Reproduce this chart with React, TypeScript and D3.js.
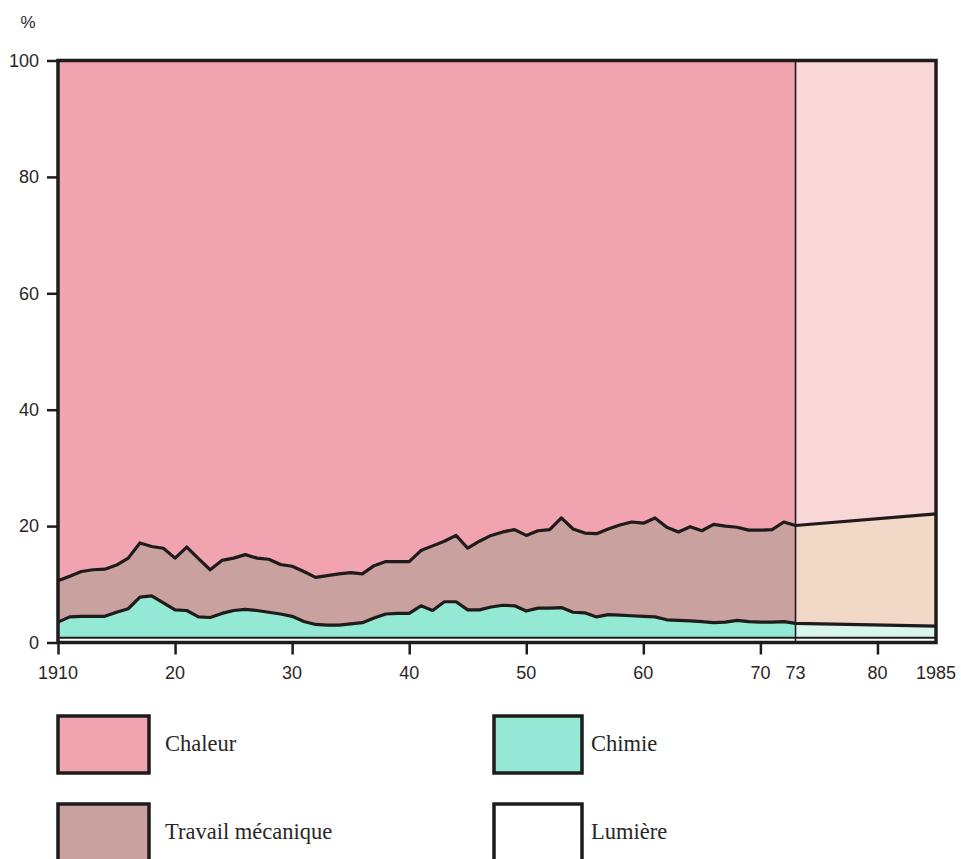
import * as d3 from "d3";
import { useEffect, useRef } from "react";

const YEARS = [
  1910, 1911, 1912, 1913, 1914, 1915, 1916, 1917, 1918, 1919,
  1920, 1921, 1922, 1923, 1924, 1925, 1926, 1927, 1928, 1929,
  1930, 1931, 1932, 1933, 1934, 1935, 1936, 1937, 1938, 1939,
  1940, 1941, 1942, 1943, 1944, 1945, 1946, 1947, 1948, 1949,
  1950, 1951, 1952, 1953, 1954, 1955, 1956, 1957, 1958, 1959,
  1960, 1961, 1962, 1963, 1964, 1965, 1966, 1967, 1968, 1969,
  1970, 1971, 1972, 1973, 1985,
];

// shares in % (bottom to top)
const LUMIERE = [
  0.8, 0.8, 0.8, 0.8, 0.8, 0.8, 0.8, 0.8, 0.8, 0.8,
  0.8, 0.8, 0.8, 0.8, 0.8, 0.8, 0.8, 0.8, 0.8, 0.8,
  0.8, 0.8, 0.8, 0.8, 0.8, 0.8, 0.8, 0.8, 0.8, 0.8,
  0.8, 0.8, 0.8, 0.8, 0.8, 0.8, 0.8, 0.8, 0.8, 0.8,
  0.8, 0.8, 0.8, 0.8, 0.8, 0.8, 0.8, 0.8, 0.8, 0.8,
  0.8, 0.8, 0.8, 0.8, 0.8, 0.8, 0.8, 0.8, 0.8, 0.8,
  0.8, 0.8, 0.8, 0.8, 0.8,
];

const CHIMIE = [
  2.7, 3.6, 3.7, 3.7, 3.7, 4.4, 5.0, 7.0, 7.2, 6.0,
  4.8, 4.7, 3.6, 3.5, 4.2, 4.7, 4.9, 4.7, 4.4, 4.1,
  3.7, 2.8, 2.3, 2.2, 2.2, 2.4, 2.6, 3.4, 4.1, 4.2,
  4.2, 5.5, 4.7, 6.2, 6.2, 4.8, 4.8, 5.3, 5.6, 5.5,
  4.6, 5.1, 5.1, 5.2, 4.4, 4.3, 3.6, 4.0, 3.9, 3.8,
  3.7, 3.6, 3.1, 3.0, 2.9, 2.8, 2.6, 2.7, 3.0, 2.8,
  2.7, 2.7, 2.8, 2.5, 2.0,
];

const TRAVAIL = [
  7.1, 7.0, 7.7, 8.0, 8.1, 8.1, 8.7, 9.3, 8.5, 9.4,
  8.9, 10.9, 10.0, 8.2, 9.1, 9.0, 9.4, 9.0, 9.1, 8.5,
  8.6, 8.6, 8.1, 8.5, 8.8, 8.8, 8.4, 9.0, 9.0, 8.9,
  8.9, 9.5, 11.1, 10.4, 11.4, 10.6, 11.8, 12.3, 12.6, 13.1,
  13.0, 13.3, 13.5, 15.4, 14.3, 13.7, 14.3, 14.7, 15.5, 16.1,
  16.0, 17.0, 15.9, 15.2, 16.2, 15.6, 16.9, 16.5, 16.0, 15.7,
  15.8, 15.9, 17.1, 16.8, 19.3,
];

const CHALEUR = [
  89.4, 88.6, 87.8, 87.5, 87.4, 86.7, 85.5, 82.9, 83.5, 83.8,
  85.5, 83.6, 85.6, 87.5, 85.9, 85.5, 84.9, 85.5, 85.7, 86.6,
  86.9, 87.8, 88.8, 88.5, 88.2, 88.0, 88.2, 86.8, 86.1, 86.1,
  86.1, 84.2, 83.4, 82.6, 81.6, 83.8, 82.6, 81.6, 81.0, 80.6,
  81.6, 80.8, 80.6, 78.6, 80.5, 81.2, 81.3, 80.5, 79.8, 79.3,
  79.5, 78.6, 80.2, 81.0, 80.1, 80.8, 79.7, 80.0, 80.2, 80.7,
  80.7, 80.6, 79.3, 79.9, 77.9,
];

const SERIES_KEYS = ["lumiere", "chimie", "travail", "chaleur"] as const;
type SeriesKey = (typeof SERIES_KEYS)[number];

const PAST_COLORS: Record<SeriesKey, string> = {
  lumiere: "#ffffff",
  chimie: "#93e9d3",
  travail: "#c9a29f",
  chaleur: "#f2a3b0",
};

const FORECAST_COLORS: Record<SeriesKey, string> = {
  lumiere: "#ffffff",
  chimie: "#d8f6ec",
  travail: "#f2d9c7",
  chaleur: "#fad7d7",
};

const LEGEND_ITEMS: { key: SeriesKey; label: string }[] = [
  { key: "chaleur", label: "Chaleur" },
  { key: "travail", label: "Travail mécanique" },
  { key: "chimie", label: "Chimie" },
  { key: "lumiere", label: "Lumière" },
];

const Y_TICKS = [0, 20, 40, 60, 80, 100];
const X_TICKS = [1910, 1920, 1930, 1940, 1950, 1960, 1970, 1980];
const X_LABELS: { year: number; text: string }[] = [
  { year: 1910, text: "1910" },
  { year: 1920, text: "20" },
  { year: 1930, text: "30" },
  { year: 1940, text: "40" },
  { year: 1950, text: "50" },
  { year: 1960, text: "60" },
  { year: 1970, text: "70" },
  { year: 1973, text: "73" },
  { year: 1980, text: "80" },
  { year: 1985, text: "1985" },
];
const SPLIT_YEAR = 1973;

const INK = "#1f1b1b";
const SANS = "'Liberation Sans', Arial, Helvetica, sans-serif";
const SERIF = "'Liberation Serif', 'Times New Roman', serif";

type Row = { year: number } & Record<SeriesKey, number>;

const rows: Row[] = YEARS.map((year, i) => ({
  year,
  lumiere: LUMIERE[i],
  chimie: CHIMIE[i],
  travail: TRAVAIL[i],
  chaleur: CHALEUR[i],
}));

const drawChart = (svgElement: SVGSVGElement) => {
  const svg = d3.select(svgElement);
  svg.selectAll("*").remove();

  const plot = { left: 58, right: 936, top: 60.5, bottom: 642.5 };

  const x = d3.scaleLinear().domain([1910, 1985]).range([plot.left, plot.right]);
  const y = d3.scaleLinear().domain([0, 100]).range([plot.bottom, plot.top]);

  const stacked = d3.stack<Row, SeriesKey>().keys(SERIES_KEYS as unknown as SeriesKey[])(rows);

  const area = d3
    .area<d3.SeriesPoint<Row>>()
    .x((d) => x(d.data.year))
    .y0((d) => y(d[0]))
    .y1((d) => y(d[1]));

  const line = d3
    .line<d3.SeriesPoint<Row>>()
    .x((d) => x(d.data.year))
    .y((d) => y(d[1]));

  const root = svg.append("g");

  // past (measured) and forecast (1973-1985) areas
  for (const layer of stacked) {
    const key = layer.key as SeriesKey;
    root
      .append("path")
      .datum(layer.filter((d) => d.data.year <= SPLIT_YEAR))
      .attr("d", area)
      .attr("fill", PAST_COLORS[key]);
    root
      .append("path")
      .datum(layer.filter((d) => d.data.year >= SPLIT_YEAR))
      .attr("d", area)
      .attr("fill", FORECAST_COLORS[key]);
  }

  // boundary lines
  const boundaryWidths: Partial<Record<SeriesKey, number>> = { lumiere: 2, chimie: 3.2, travail: 3.2 };
  for (const layer of stacked) {
    const key = layer.key as SeriesKey;
    const w = boundaryWidths[key];
    if (!w) continue;
    root
      .append("path")
      .datum(layer)
      .attr("d", line)
      .attr("fill", "none")
      .attr("stroke", INK)
      .attr("stroke-width", w)
      .attr("stroke-linejoin", "round");
  }

  // 1973 divider
  root
    .append("line")
    .attr("x1", x(SPLIT_YEAR))
    .attr("x2", x(SPLIT_YEAR))
    .attr("y1", plot.top)
    .attr("y2", plot.bottom)
    .attr("stroke", INK)
    .attr("stroke-width", 1.6);

  // frame
  root
    .append("rect")
    .attr("x", plot.left)
    .attr("y", plot.top)
    .attr("width", plot.right - plot.left)
    .attr("height", plot.bottom - plot.top)
    .attr("fill", "none")
    .attr("stroke", INK)
    .attr("stroke-width", 3.5);

  // y axis
  const yAxis = root
    .append("g")
    .attr("transform", `translate(${plot.left},0)`)
    .call(d3.axisLeft(y).tickValues(Y_TICKS).tickSize(11).tickPadding(8).tickFormat(d3.format("d")));
  yAxis.select(".domain").remove();
  yAxis.selectAll("line").attr("stroke", INK).attr("stroke-width", 2.5);
  yAxis
    .selectAll("text")
    .attr("fill", "#2a2626")
    .style("font-family", SANS)
    .style("font-size", "18px");

  root
    .append("text")
    .attr("x", 28)
    .attr("y", 28)
    .attr("text-anchor", "middle")
    .attr("fill", "#2a2626")
    .style("font-family", SANS)
    .style("font-size", "17px")
    .text("%");

  // x axis ticks
  const xAxis = root
    .append("g")
    .attr("transform", `translate(0,${plot.bottom})`)
    .call(d3.axisBottom(x).tickValues(X_TICKS).tickSize(12).tickFormat(() => ""));
  xAxis.select(".domain").remove();
  xAxis.selectAll("line").attr("stroke", INK).attr("stroke-width", 2.5);

  root
    .selectAll("text.xlabel")
    .data(X_LABELS)
    .join("text")
    .attr("class", "xlabel")
    .attr("x", (d) => x(d.year))
    .attr("y", 679)
    .attr("text-anchor", "middle")
    .attr("fill", "#2a2626")
    .style("font-family", SANS)
    .style("font-size", "18px")
    .text((d) => d.text);

  // legend
  const legendPos: Record<SeriesKey, { x: number; y: number }> = {
    chaleur: { x: 58, y: 716 },
    travail: { x: 58, y: 804 },
    chimie: { x: 494, y: 716 },
    lumiere: { x: 494, y: 804 },
  };
  const boxW = 88;
  const boxH = 57;

  const legend = root
    .selectAll("g.legend-item")
    .data(LEGEND_ITEMS)
    .join("g")
    .attr("class", "legend-item")
    .attr("transform", (d) => `translate(${legendPos[d.key].x},${legendPos[d.key].y})`);

  legend
    .append("rect")
    .attr("width", (d) => (d.key === "chaleur" || d.key === "travail" ? boxW + 3 : boxW))
    .attr("height", boxH)
    .attr("fill", (d) => PAST_COLORS[d.key])
    .attr("stroke", INK)
    .attr("stroke-width", 3.5);

  legend
    .append("text")
    .attr("x", (d) => (d.key === "chaleur" || d.key === "travail" ? 107 : 97))
    .attr("y", 35)
    .attr("fill", "#2a2626")
    .style("font-family", SERIF)
    .style("font-size", "22.5px")
    .text((d) => d.label);
};

const App = () => {
  const svgRef = useRef<SVGSVGElement | null>(null);

  useEffect(() => {
    if (svgRef.current) drawChart(svgRef.current);
  }, []);

  return (
    <svg
      ref={svgRef}
      width={961}
      height={859}
      style={{ position: "absolute", left: 0, top: 0, background: "#ffffff" }}
    />
  );
};

export default App;
